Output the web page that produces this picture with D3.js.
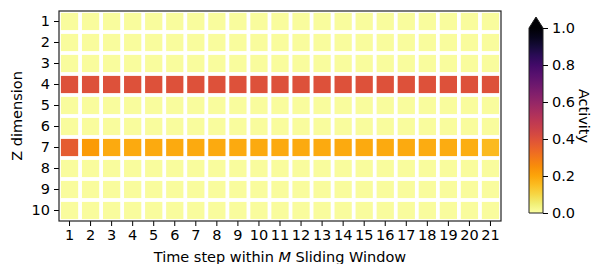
<!DOCTYPE html>
<html><head><meta charset="utf-8">
<script src="https://cdn.jsdelivr.net/npm/d3@7"></script>
<style>body{margin:0;background:#fff}svg{display:block}text{font-family:"DejaVu Sans",sans-serif;fill:#000}</style>
</head><body><svg id="c" width="592" height="264"></svg>
<script>
const rows = [1,2,3,4,5,6,7,8,9,10];
const cols = d3.range(1,22);
const baseline = 0.01;
const row4 = [0.40,0.40,0.40,0.40,0.40,0.40,0.40,0.40,0.40,0.40,0.40,0.40,0.40,0.40,0.40,0.40,0.40,0.40,0.40,0.40,0.40];
const row7 = [0.37,0.22,0.19,0.19,0.19,0.19,0.19,0.19,0.19,0.19,0.19,0.19,0.19,0.19,0.19,0.19,0.19,0.185,0.185,0.18,0.16];
const cbTicks = [0.0,0.2,0.4,0.6,0.8,1.0];

const data = [];
rows.forEach(r => cols.forEach((c,i) => {
  let v = baseline;
  if (r === 4) v = row4[i];
  if (r === 7) v = row7[i];
  data.push({r, c, v});
}));

const FS = 14.5;
const svg = d3.select("#c");
const L = 59, R = 501, T = 11, B = 221;
const x = d3.scaleBand().domain(cols).range([L, R]);
const y = d3.scaleBand().domain(rows).range([T, B]);
const color = v => d3.interpolateInferno(1 - v);
const gap = 1.9;

svg.append("g").selectAll("rect").data(data).join("rect")
  .attr("x", d => x(d.c) + gap)
  .attr("y", d => y(d.r) + gap)
  .attr("width", x.bandwidth() - 2*gap)
  .attr("height", y.bandwidth() - 2*gap)
  .attr("fill", d => color(d.v));

const xAxis = svg.append("g").attr("transform", `translate(0,${B})`)
  .call(d3.axisBottom(x).tickSize(5).tickPadding(4));
const yAxis = svg.append("g").attr("transform", `translate(${L},0)`)
  .call(d3.axisLeft(y).tickSize(5).tickPadding(4));
[xAxis, yAxis].forEach(g => {
  g.select(".domain").remove();
  g.selectAll(".tick line").attr("stroke", "#000").attr("stroke-width", 1);
  g.selectAll(".tick text").attr("font-size", FS).attr("font-family", "DejaVu Sans");
});
svg.append("rect").attr("x", L).attr("y", T).attr("width", R-L).attr("height", B-T)
  .attr("fill", "none").attr("stroke", "#222").attr("stroke-width", 1.2);

const xl = svg.append("text").attr("x", (L+R)/2).attr("y", 262).attr("text-anchor", "middle").attr("font-size", FS);
xl.append("tspan").text("Time step within ");
xl.append("tspan").attr("font-style", "italic").text("M");
xl.append("tspan").text(" Sliding Window");
svg.append("text").attr("transform", `translate(22,${(T+B)/2}) rotate(-90)`)
  .attr("text-anchor", "middle").attr("font-size", FS).text("Z dimension");

const cbX = 529, cbW = 14, cbTop = 28, cbBot = 213, cbTip = 17;
const cy = d3.scaleLinear().domain([0, 1]).range([cbBot, cbTop]);
const defs = svg.append("defs");
const grad = defs.append("linearGradient").attr("id", "g").attr("x1", 0).attr("y1", 1).attr("x2", 0).attr("y2", 0);
d3.range(0, 1.0001, 0.05).forEach(t => grad.append("stop").attr("offset", t).attr("stop-color", color(t)));
svg.append("rect").attr("x", cbX).attr("y", cbTop).attr("width", cbW).attr("height", cbBot - cbTop).attr("fill", "url(#g)");
svg.append("path").attr("d", `M${cbX},${cbTop}L${cbX+cbW/2},${cbTip}L${cbX+cbW},${cbTop}Z`).attr("fill", color(1));
svg.append("path").attr("d", `M${cbX},${cbBot}L${cbX},${cbTop}L${cbX+cbW/2},${cbTip}L${cbX+cbW},${cbTop}L${cbX+cbW},${cbBot}Z`)
  .attr("fill", "none").attr("stroke", "#222").attr("stroke-width", 1);
const cbAxis = svg.append("g").attr("transform", `translate(${cbX+cbW},0)`)
  .call(d3.axisRight(cy).tickValues(cbTicks).tickFormat(d3.format(".1f")).tickSize(5).tickPadding(4));
cbAxis.select(".domain").remove();
cbAxis.selectAll(".tick line").attr("stroke", "#000");
cbAxis.selectAll(".tick text").attr("font-size", FS).attr("font-family", "DejaVu Sans");
svg.append("text").attr("transform", `translate(579,116) rotate(90)`)
  .attr("text-anchor", "middle").attr("font-size", FS).text("Activity");
</script></body></html>
